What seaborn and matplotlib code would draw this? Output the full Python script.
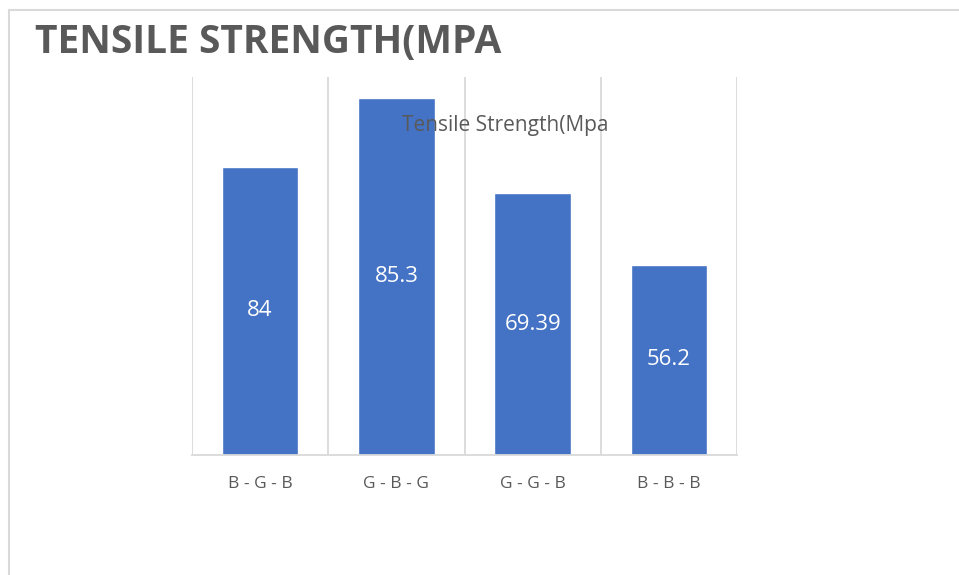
import numpy as np
import pandas as pd
import matplotlib
matplotlib.use("Agg")
import matplotlib.pyplot as plt
import seaborn as sns
from matplotlib.patches import Rectangle

# --- Data (bar heights, labels as printed on bars) ---
categories = ["B - G - B", "G - B - G", "G - G - B", "B - B - B"]
bar_heights = [76.2, 94.4, 69.3, 50.3]
bar_labels = ["84", "85.3", "69.39", "56.2"]

df = pd.DataFrame({"combo": categories, "value": bar_heights})

sns.set_theme(style="white")
plt.rcParams["font.family"] = ["Open Sans", "DejaVu Sans"]

grey = "#595959"
line_grey = "#d9d9d9"

fig = plt.figure(figsize=(9.59, 5.75), dpi=100)
ax = fig.add_axes([192 / 959, 120 / 575, 545 / 959, 378 / 575])

sns.barplot(data=df, x="combo", y="value", color="#4472C4", width=0.56,
            saturation=1, ax=ax)

ax.set_ylim(0, 100)
ax.set_xlim(-0.5, len(categories) - 0.5)
ax.set_xlabel("")
ax.set_ylabel("")
ax.set_yticks([])

# --- category boundaries as vertical gridlines ---
ax.set_xticks(np.arange(-0.5, len(categories), 1.0), minor=True)
ax.grid(which="minor", axis="x", color=line_grey, linewidth=1.3)
ax.tick_params(axis="x", which="both", length=0, colors=grey, labelsize=12.5, pad=15)
for s in ["top", "left", "right"]:
    ax.spines[s].set_visible(False)
ax.spines["bottom"].set_color(line_grey)
ax.spines["bottom"].set_linewidth(1.3)

# --- data labels in the middle of each bar ---
for i, (h, lab) in enumerate(zip(bar_heights, bar_labels)):
    ax.text(i, h / 2, lab, ha="center", va="center", color="white", fontsize=16)

# --- inner chart title drawn over the plot ---
fig.text(505 / 959, 1 - 126 / 575, "Tensile Strength(Mpa", ha="center", va="center",
         color=grey, fontsize=15)

# --- big title ---
fig.text(35 / 959, 1 - 42 / 575, "TENSILE STRENGTH(MPA", ha="left", va="center",
         color=grey, fontsize=28, fontweight="bold")

# --- chart-area border ---
fig.patches.append(Rectangle((9 / 959, -0.05), 1.0, 1.05 - 10 / 575,
                             transform=fig.transFigure, fill=False,
                             edgecolor=line_grey, linewidth=1.5))

fig.savefig("out.png", dpi=100)
